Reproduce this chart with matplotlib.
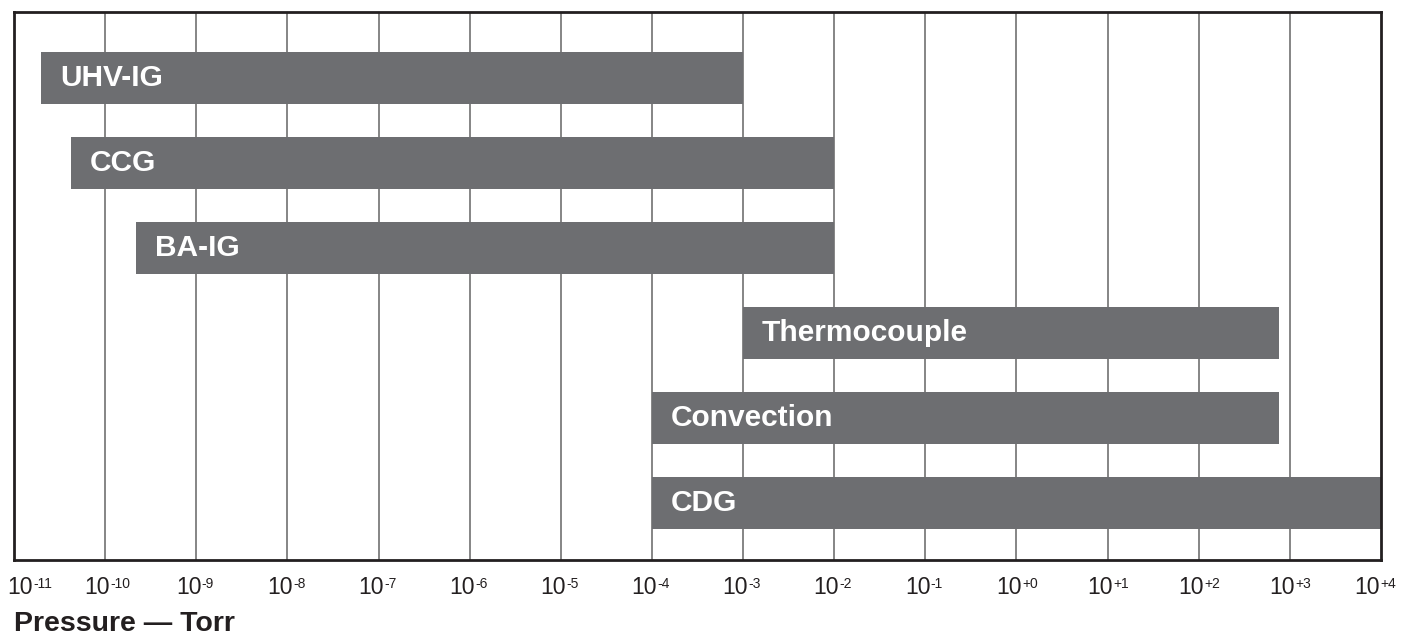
import matplotlib
matplotlib.use("Agg")
import matplotlib.pyplot as plt
import numpy as np

# gauge ranges in Torr
gauges = ["UHV-IG", "CCG", "BA-IG", "Thermocouple", "Convection", "CDG"]
low = [2e-11, 4.2e-11, 2.2e-10, 1e-3, 1e-4, 1e-4]
high = [1e-3, 1e-2, 1e-2, 760, 760, 1e4]
exponents = list(range(-11, 5))

plt.rcParams['font.family'] = ['Liberation Sans', 'DejaVu Sans']

barColor = '#6d6e71'
gridColor = '#858585'
edgeColor = '#231f20'
textColor = '#231f20'

fig = plt.figure(figsize=(14.06, 6.37), dpi=100)
ax = fig.add_axes([14/1406, 77/637, 1367/1406, 548/637])

ax.set_xscale('log')
ax.set_xlim(1e-11, 1e4)
ypos = np.arange(len(gauges))
ax.set_ylim(5 + 57/85, -66/85)

# decade grid behind the bars
for e in exponents[1:-1]:
    ax.axvline(10.0**e, color=gridColor, lw=1.4, zorder=1)

widths = np.array(high) - np.array(low)
ax.barh(ypos, widths, left=low, height=52/85, color=barColor, zorder=2)

for y, lo, name in zip(ypos, low, gauges):
    ax.annotate(name, xy=(lo, y), xytext=(13.5, 0), textcoords='offset points',
                ha='left', va='center', color='white', fontsize=21.5,
                fontweight='bold', zorder=3)

# tick labels drawn by hand: "10" plus a small raised exponent with a hyphen
ax.set_xticks([])
ax.set_yticks([])
ax.xaxis.set_minor_locator(matplotlib.ticker.NullLocator())
px = 0.72  # points per pixel at dpi 100
for i, e in enumerate(exponents):
    s = '+%d' % e if e >= 0 else '-%d' % (-e)
    d = 5
    if i == 0:
        d = 19
    elif i == len(exponents) - 1:
        d = -1
    ax.annotate('10', xy=(10.0**e, 0), xycoords=('data', 'axes fraction'),
                xytext=(d*px, -16*px), textcoords='offset points',
                ha='right', va='top', fontsize=16.5, color=textColor,
                annotation_clip=False)
    ax.annotate(s, xy=(10.0**e, 0), xycoords=('data', 'axes fraction'),
                xytext=((d + 0.5)*px, -17.5*px), textcoords='offset points',
                ha='left', va='top', fontsize=10, color=textColor,
                annotation_clip=False)

for sp in ax.spines.values():
    sp.set_color(edgeColor)
    sp.set_linewidth(2)
    sp.set_zorder(4)

fig.text(14/1406, 1 - 631/637, "Pressure \u2014 Torr", ha='left', va='baseline',
         fontsize=20.5, fontweight='bold', color=textColor)

fig.savefig("out.png", dpi=100)
